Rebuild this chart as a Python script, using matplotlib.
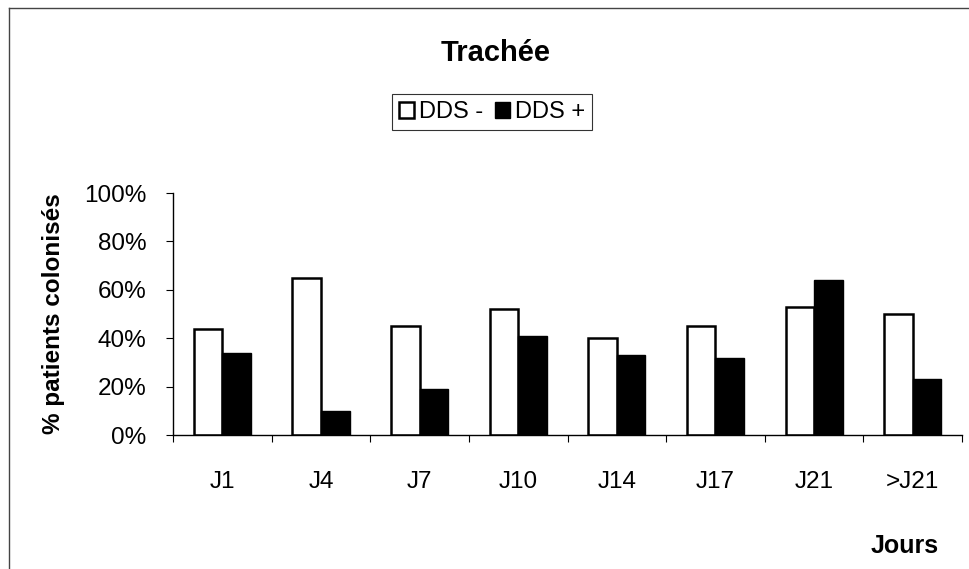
import numpy as np
import matplotlib.pyplot as plt
from matplotlib.lines import Line2D

plt.rcParams['font.family'] = ['Liberation Sans', 'DejaVu Sans']

# Données
jours = ['J1', 'J4', 'J7', 'J10', 'J14', 'J17', 'J21', '>J21']
dds_moins = [44, 65, 45, 52, 40, 45, 53, 50]
dds_plus = [34, 10, 19, 41, 33, 32, 64, 23]
series = ['DDS -', 'DDS +']

fig = plt.figure(figsize=(9.7, 5.69), dpi=100)
ax = fig.add_axes([0.1784, 0.2355, 0.8134, 0.4253])

x = np.arange(len(jours))
w = 0.29
ax.bar(x - w / 2, np.array(dds_moins) / 100, w, color='white', edgecolor='black',
       linewidth=1.8, label=series[0])
ax.bar(x + w / 2, np.array(dds_plus) / 100, w, color='black', edgecolor='black',
       linewidth=1.0, label=series[1])

ax.set_xlim(-0.5, len(jours) - 0.5)
ax.set_ylim(0, 1)
ax.set_yticks(np.arange(0, 1.01, 0.2))
ax.set_yticklabels([f'{int(round(v * 100))}%' for v in np.arange(0, 1.01, 0.2)], fontsize=17.5)
ax.set_xticks(x)
ax.set_xticklabels(jours, fontsize=17.5)
ax.set_xticks(np.arange(-0.5, len(jours)), minor=True)
ax.tick_params(axis='x', which='major', length=0, pad=26)
ax.tick_params(axis='x', which='minor', length=5, width=0.8, direction='out')
ax.tick_params(axis='y', length=5, width=0.8, direction='out', pad=14)

for s in ['top', 'right']:
    ax.spines[s].set_visible(False)
ax.spines['left'].set_linewidth(1.0)
ax.spines['bottom'].set_linewidth(1.0)

ax.set_ylabel('% patients colonisés', fontsize=17.5, fontweight='bold', labelpad=14)
fig.text(0.511, 1 - 53 / 569, 'Trachée', fontsize=21, fontweight='bold',
         ha='center', va='center')
fig.text(905 / 970, 1 - 546 / 569, 'Jours', fontsize=18, fontweight='bold',
         ha='center', va='center')

leg = ax.legend(ncol=2, loc='center', bbox_to_anchor=(492 / 970, 1 - 112 / 569),
                bbox_transform=fig.transFigure, fontsize=17, frameon=True,
                fancybox=False, handlelength=0.65, handleheight=0.65,
                handletextpad=0.2, columnspacing=0.5, borderpad=0.3)
leg.get_frame().set_edgecolor('black')
leg.get_frame().set_linewidth(0.8)

# cadre autour de la figure
fig.add_artist(Line2D([9 / 970, 9 / 970], [0, 1 - 8 / 569], color='#444444', lw=1.0))
fig.add_artist(Line2D([9 / 970, 1], [1 - 8 / 569, 1 - 8 / 569], color='#444444', lw=1.0))

plt.savefig('out.png', dpi=100)
